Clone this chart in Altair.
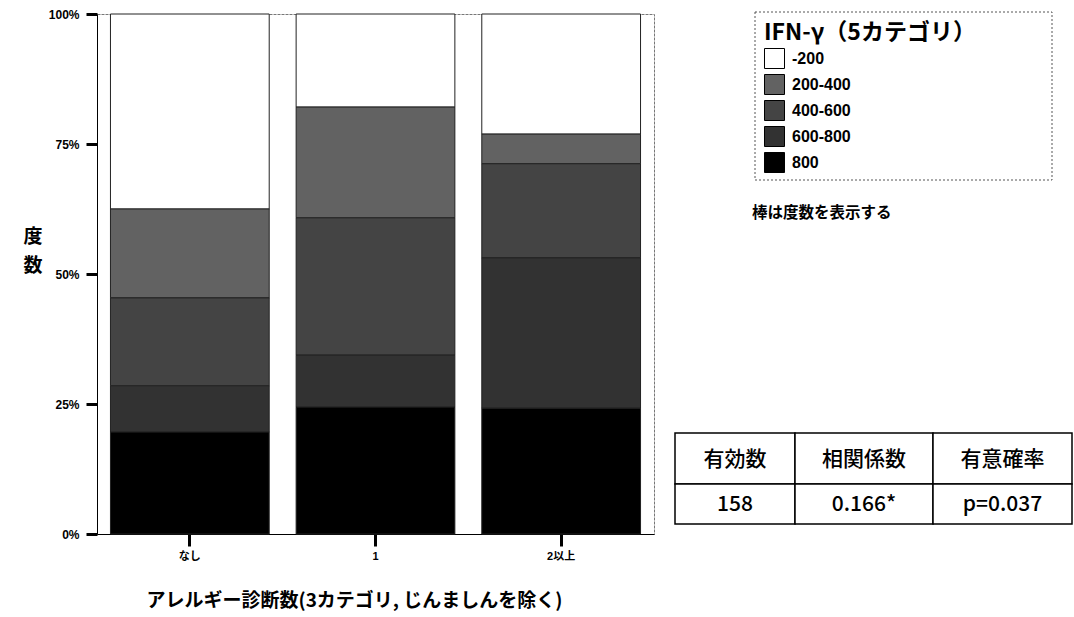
import altair as alt
import pandas as pd

# Allergy diagnosis groups (x axis) and IFN-γ levels (stack segments)
groups = ["なし", "1", "2以上"]
levels = ["-200", "200-400", "400-600", "600-800", "800"]

# Share (%) of each IFN-γ level within each group, in the order of `levels`
pct_none = [37.5, 17.1, 16.9, 8.9, 19.6]
pct_one = [17.9, 21.3, 26.4, 10.0, 24.4]
pct_two_plus = [23.1, 5.7, 18.1, 28.9, 24.2]

# Correlation summary table
table_header = ["有効数", "相関係数", "有意確率"]
table_values = ["158", "0.166*", "p=0.037"]

# Vertical y-axis caption, one character per line
y_caption = ["度", "数"]

# Styling
level_fills = ["#ffffff", "#626262", "#444444", "#323232", "#000000"]
FONT = "Liberation Sans, Noto Sans CJK JP"
CJK = "Noto Sans CJK JP, Liberation Sans"

# Layout (pixels from the plot origin)
col_edges = [578, 698, 836, 975]
row_edges = [419, 470, 510]
caption_x = -64
caption_y = [223, 252]

rows = []
for g, vals in zip(groups, [pct_none, pct_one, pct_two_plus]):
    for i, (lvl, v) in enumerate(zip(levels, vals)):
        rows.append({"group": g, "level": lvl, "pct": v,
                     "rank": len(levels) - 1 - i})
df = pd.DataFrame(rows)

cells = []
for r, texts in enumerate([table_header, table_values]):
    for c, t in enumerate(texts):
        cells.append({
            "label": t,
            "x0": col_edges[c], "x1": col_edges[c + 1],
            "y0": row_edges[r], "y1": row_edges[r + 1],
            "xc": (col_edges[c] + col_edges[c + 1]) / 2,
            "yc": (row_edges[r] + row_edges[r + 1]) / 2 + 1,
        })
table_df = pd.DataFrame(cells)

caption_df = pd.DataFrame({"ch": y_caption, "py": caption_y, "px": caption_x})

bars = alt.Chart(df).mark_bar(stroke="#222222", strokeWidth=1).encode(
    x=alt.X(
        "group:N", sort=groups,
        scale=alt.Scale(paddingInner=0.145, paddingOuter=0.0725),
        axis=alt.Axis(
            title="アレルギー診断数(3カテゴリ, じんましんを除く)",
            labelAngle=0, labelFont=FONT, labelFontSize=11,
            labelFontWeight="bold", labelColor="#000", labelPadding=4,
            tickSize=12, tickWidth=3, tickColor="#000",
            domainColor="#000", domainWidth=1,
            titleFont=CJK, titleFontSize=19, titleFontWeight="bold",
            titleColor="#000", titleX=257, titleY=66,
            titleAlign="center", titleBaseline="middle",
        ),
    ),
    y=alt.Y(
        "pct:Q", stack="zero",
        scale=alt.Scale(domain=[0, 100], nice=False),
        axis=alt.Axis(
            values=[0, 25, 50, 75, 100],
            labelExpr="datum.value + '%'",
            labelFont=FONT, labelFontSize=12, labelFontWeight="bold",
            labelColor="#000", labelPadding=7,
            tickSize=11, tickWidth=3, tickColor="#000",
            domainColor="#000", domainWidth=1, grid=False,
            title=None,
        ),
    ),
    color=alt.Color(
        "level:N", sort=levels,
        scale=alt.Scale(domain=levels, range=level_fills),
        legend=alt.Legend(
            title="IFN-γ（5カテゴリ）", orient="none",
            legendX=667, legendY=8, padding=0,
            symbolType="square", symbolSize=400,
            symbolStrokeColor="#000", symbolStrokeWidth=1,
            symbolOpacity=1,
            titleFont=CJK, titleFontSize=23, titleFontWeight="bold",
            titleColor="#000", titlePadding=3, titleLimit=600,
            labelFont=FONT, labelFontSize=16, labelFontWeight="bold",
            labelColor="#000", labelOffset=7, rowPadding=1,
        ),
    ),
    order=alt.Order("rank:Q", sort="ascending"),
)

caption = alt.Chart(caption_df).mark_text(
    font=CJK, fontSize=19, fontWeight="bold", color="#000",
    align="center", baseline="middle",
).encode(
    x=alt.X("px:Q", scale=None),
    y=alt.Y("py:Q", scale=None),
    text="ch:N",
)

# Dotted frame round the legend
legend_box = alt.Chart(pd.DataFrame({"k": [0]})).mark_rect(
    fillOpacity=0, stroke="#555555", strokeWidth=1, strokeDash=[2, 2]
).encode(
    x=alt.value(658), x2=alt.value(955),
    y=alt.value(-2), y2=alt.value(166),
)

note = alt.Chart(pd.DataFrame({"t": ["棒は度数を表示する"]})).mark_text(
    font=CJK, fontSize=15.5, fontWeight="bold", color="#000",
    align="left", baseline="middle",
).encode(x=alt.value(655), y=alt.value(199), text="t:N")

table_cells = alt.Chart(table_df).mark_rect(
    fill="#ffffff", stroke="#000000", strokeWidth=1.5
).encode(
    x=alt.X("x0:Q", scale=None), x2="x1:Q",
    y=alt.Y("y0:Q", scale=None), y2="y1:Q",
)

table_text = alt.Chart(table_df).mark_text(
    font=CJK, fontSize=21, fontWeight=500, color="#000",
    baseline="middle", align="center"
).encode(
    x=alt.X("xc:Q", scale=None),
    y=alt.Y("yc:Q", scale=None),
    text="label:N",
)

chart = alt.layer(
    bars, caption, legend_box, note, table_cells, table_text
).resolve_scale(
    x="independent", y="independent"
).properties(
    width=557, height=520,
    padding={"left": 97, "top": 14, "right": 420, "bottom": 83},
    autosize="none",
    background="#ffffff",
).configure_view(
    stroke="#777777", strokeWidth=1, strokeDash=[3, 1]
)

chart.save("out.html", embed_options={"renderer": "svg", "actions": False})
